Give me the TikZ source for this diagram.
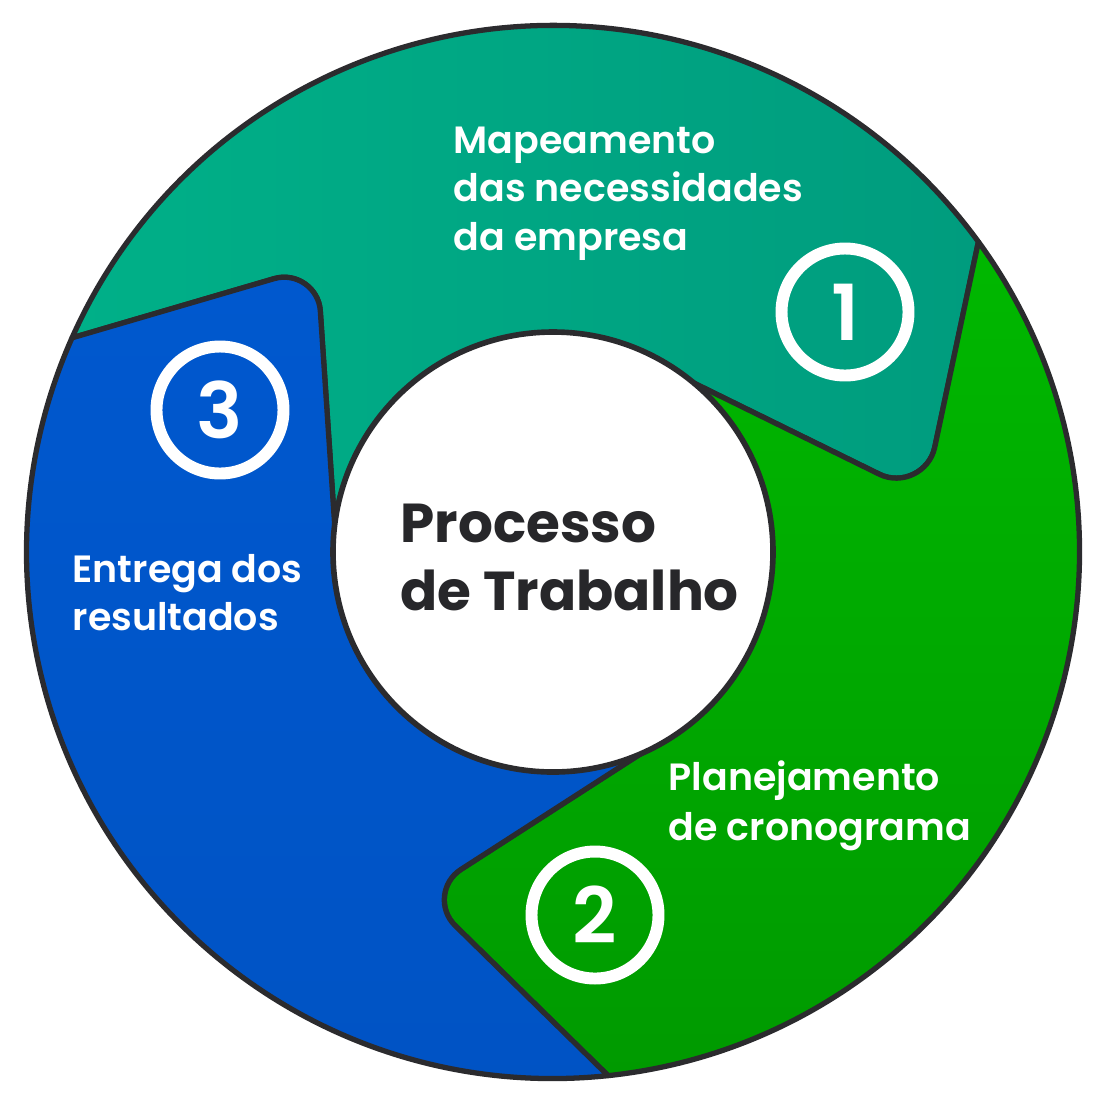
\documentclass[tikz,border=0pt]{standalone}
\usepackage{fontspec}
\setmainfont{Poppins}
\newfontfamily\medfont{Poppins SemiBold}
\usetikzlibrary{calc}
\definecolor{edge}{HTML}{2B2B2E}
\definecolor{ink}{HTML}{27272A}
\definecolor{tealA}{HTML}{00B088}
\definecolor{tealB}{HTML}{009C7E}
\definecolor{greenA}{HTML}{00B800}
\definecolor{greenB}{HTML}{009A00}
\definecolor{blueA}{HTML}{0058CE}
\definecolor{blueB}{HTML}{0053C4}

\begin{document}
\begin{tikzpicture}[
  seg/.style={draw=edge, line width=1.5pt, line join=round},
  hub/.style={draw=edge, fill=white, line width=1.6pt},
  lbl/.style={anchor=base west, inner sep=0pt, text=white, font=\medfont\fontsize{10.8}{13.5}\selectfont},
  ttl/.style={anchor=base west, inner sep=0pt, text=ink, font=\fontsize{15.6}{19}\selectfont\bfseries},
  num/.style={circle, draw=white, line width=3.4pt, minimum size=1.27cm, inner sep=0pt, text=white, font=\medfont\fontsize{22}{22}\selectfont}]
  \useasboundingbox (-5.53,-5.53) rectangle (5.54,5.52);
  \coordinate (O) at (0,0);
  \coordinate (A0) at (36.1:5.265);
  \coordinate (A1) at (156:5.265);
  \coordinate (A2) at (-84:5.265);
  \coordinate (V0) at (3.713,0.557);
  \coordinate (V1) at (-2.357,2.86);
  \coordinate (V2) at (-1.301,-3.419);
  \coordinate (P0) at ($(V0)!1.3!(1.59,1.60)$);
  \coordinate (P1) at ($(V1)!1.28!(-2.20,0.52)$);
  \coordinate (P2) at ($(V2)!1.25!(0.67,-2.15)$);
  \path[seg, left color=tealA, right color=tealB] (O) -- (P1) -- ($(V1)!0.45cm!(P1)$) .. controls ($(V1)!0.22cm!(P1)$) and ($(V1)!0.22cm!(A1)$) .. ($(V1)!0.45cm!(A1)$) -- (A1) arc[start angle=156, end angle=36.1, radius=5.265] -- ($(V0)!0.5cm!(A0)$) .. controls ($(V0)!0.25cm!(A0)$) and ($(V0)!0.25cm!(P0)$) .. ($(V0)!0.5cm!(P0)$) -- (P0) -- cycle;
  \path[seg, top color=greenA, bottom color=greenB] (O) -- (P0) -- ($(V0)!0.5cm!(P0)$) .. controls ($(V0)!0.25cm!(P0)$) and ($(V0)!0.25cm!(A0)$) .. ($(V0)!0.5cm!(A0)$) -- (A0) arc[start angle=36.1, end angle=-84, radius=5.265] -- ($(V2)!0.45cm!(A2)$) .. controls ($(V2)!0.22cm!(A2)$) and ($(V2)!0.22cm!(P2)$) .. ($(V2)!0.45cm!(P2)$) -- (P2) -- cycle;
  \path[seg, top color=blueA, bottom color=blueB] (O) -- (P2) -- ($(V2)!0.45cm!(P2)$) .. controls ($(V2)!0.22cm!(P2)$) and ($(V2)!0.22cm!(A2)$) .. ($(V2)!0.45cm!(A2)$) -- (A2) arc[start angle=-84, end angle=-204, radius=5.265] -- ($(V1)!0.45cm!(A1)$) .. controls ($(V1)!0.22cm!(A1)$) and ($(V1)!0.22cm!(P1)$) .. ($(V1)!0.45cm!(P1)$) -- (P1) -- cycle;
  \draw[hub] (O) circle (2.2);
  \node[num] (n1) at (2.92,2.40) {1};
  \node[num] (n2) at (0.42,-3.63) {2};
  \node[num] (n3) at (-3.33,1.42) {3};
  \node[lbl] (map1) at (-1.00,3.99) {Mapeamento};
  \node[lbl] (map2) at (-1.00,3.505) {das necessidades};
  \node[lbl] (map3) at (-1.00,3.02) {da empresa};
  \node[lbl] (plan1) at (1.15,-2.38) {Planejamento};
  \node[lbl] (plan2) at (1.15,-2.88) {de cronograma};
  \node[lbl] (entr1) at (-4.81,-0.30) {Entrega dos};
  \node[lbl] (entr2) at (-4.81,-0.78) {resultados};
  \node[ttl] (proc1) at (-1.53,0.10) {Processo};
  \node[ttl] (proc2) at (-1.53,-0.58) {de Trabalho};
\end{tikzpicture}
\end{document}
